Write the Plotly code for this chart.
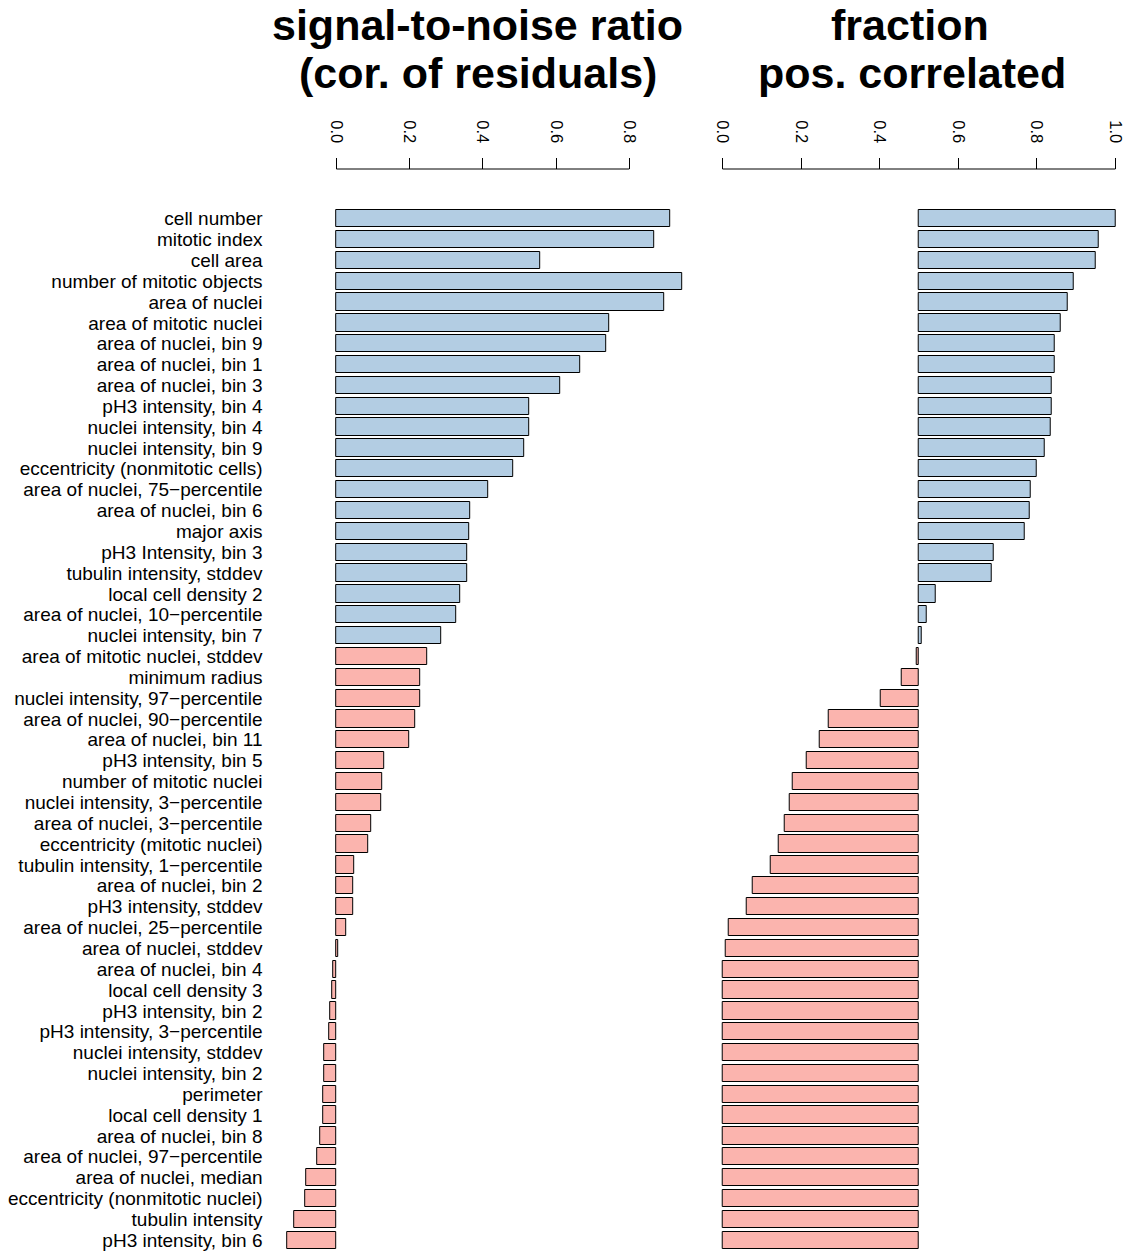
import plotly.graph_objects as go

# Feature names, top to bottom
features = [
    "cell number", "mitotic index", "cell area", "number of mitotic objects",
    "area of nuclei", "area of mitotic nuclei", "area of nuclei, bin 9",
    "area of nuclei, bin 1", "area of nuclei, bin 3", "pH3 intensity, bin 4",
    "nuclei intensity, bin 4", "nuclei intensity, bin 9",
    "eccentricity (nonmitotic cells)", "area of nuclei, 75\u2212percentile",
    "area of nuclei, bin 6", "major axis", "pH3 Intensity, bin 3",
    "tubulin intensity, stddev", "local cell density 2",
    "area of nuclei, 10\u2212percentile", "nuclei intensity, bin 7",
    "area of mitotic nuclei, stddev", "minimum radius",
    "nuclei intensity, 97\u2212percentile", "area of nuclei, 90\u2212percentile",
    "area of nuclei, bin 11", "pH3 intensity, bin 5", "number of mitotic nuclei",
    "nuclei intensity, 3\u2212percentile", "area of nuclei, 3\u2212percentile",
    "eccentricity (mitotic nuclei)", "tubulin intensity, 1\u2212percentile",
    "area of nuclei, bin 2", "pH3 intensity, stddev",
    "area of nuclei, 25\u2212percentile", "area of nuclei, stddev",
    "area of nuclei, bin 4", "local cell density 3", "pH3 intensity, bin 2",
    "pH3 intensity, 3\u2212percentile", "nuclei intensity, stddev",
    "nuclei intensity, bin 2", "perimeter", "local cell density 1",
    "area of nuclei, bin 8", "area of nuclei, 97\u2212percentile",
    "area of nuclei, median", "eccentricity (nonmitotic nuclei)",
    "tubulin intensity", "pH3 intensity, bin 6",
]

# Signal-to-noise ratio (correlation of residuals)
snr = [
    0.911, 0.868, 0.558, 0.945, 0.895, 0.745, 0.738, 0.665, 0.611, 0.527,
    0.526, 0.512, 0.483, 0.415, 0.365, 0.363, 0.357, 0.356, 0.338, 0.327,
    0.285, 0.248, 0.230, 0.228, 0.216, 0.200, 0.131, 0.126, 0.121, 0.094,
    0.088, 0.048, 0.046, 0.045, 0.026, 0.004, -0.009, -0.011, -0.016, -0.020,
    -0.033, -0.034, -0.035, -0.036, -0.045, -0.053, -0.082, -0.085, -0.116,
    -0.135,
]

# Fraction of positively correlated replicate pairs
frac_pos = [
    1.000, 0.957, 0.950, 0.893, 0.880, 0.860, 0.846, 0.845, 0.838, 0.837,
    0.836, 0.821, 0.801, 0.785, 0.782, 0.770, 0.691, 0.684, 0.543, 0.519,
    0.507, 0.495, 0.457, 0.403, 0.269, 0.248, 0.213, 0.178, 0.172, 0.158,
    0.144, 0.122, 0.076, 0.062, 0.015, 0.008, 0.0, 0.0, 0.0, 0.0,
    0.0, 0.0, 0.0, 0.0, 0.0, 0.0, 0.0, 0.0, 0.0, 0.0,
]

n_reproducible = 21  # first group drawn in blue
BLUE = "#b3cde3"
PINK = "#fbb4ae"
colors = [BLUE if i < n_reproducible else PINK for i in range(len(features))]

W, H = 1128, 1251
FONT = "Liberation Sans, Arial, Helvetica, sans-serif"

fig = go.Figure()

fig.add_trace(go.Bar(
    y=features, x=snr, orientation="h", base=0,
    marker=dict(color=colors, line=dict(color="black", width=1)),
    width=0.83, xaxis="x", yaxis="y", showlegend=False,
))

fig.add_trace(go.Bar(
    y=features, x=[f - 0.5 for f in frac_pos], base=0.5, orientation="h",
    marker=dict(color=colors, line=dict(color="black", width=1)),
    width=0.83, xaxis="x2", yaxis="y", showlegend=False,
))

axis_y_px = 169
axis_pos = 1 - axis_y_px / H

common_x = dict(
    side="top", anchor="free", position=axis_pos,
    showgrid=False, zeroline=False, showline=False,
    ticks="outside", ticklen=11, tickwidth=1, tickcolor="black",
    tickangle=90, tickfont=dict(family=FONT, size=16.5, color="black"),
    ticklabelstandoff=9,
)

fig.update_layout(
    width=W, height=H,
    margin=dict(l=0, r=0, t=0, b=0),
    paper_bgcolor="white", plot_bgcolor="white",
    bargap=0,
    font=dict(family=FONT, color="black"),
    xaxis=dict(
        domain=[263.66 / W, 703.7 / W], range=[-0.2, 1.0],
        tickvals=[0, 0.2, 0.4, 0.6, 0.8],
        ticktext=["0.0", "0.2", "0.4", "0.6", "0.8"],
        **common_x,
    ),
    xaxis2=dict(
        domain=[716.0 / W, 1125.2 / W], range=[-0.02, 1.02],
        tickvals=[0, 0.2, 0.4, 0.6, 0.8, 1.0],
        ticktext=["0.0", "0.2", "0.4", "0.6", "0.8", "1.0"],
        **common_x,
    ),
    yaxis=dict(
        domain=[0, 1], range=[49.52, -10.49],
        anchor="free", position=263 / W,
        tickmode="array", tickvals=features, ticktext=features,
        showgrid=False, zeroline=False, showline=False, ticks="",
        tickfont=dict(family=FONT, size=19, color="black"),
        automargin=False,
    ),
)

# Axis lines spanning only the labelled tick range
fig.add_shape(type="line", xref="x", yref="paper", x0=0, x1=0.8,
              y0=axis_pos, y1=axis_pos, line=dict(color="black", width=1))
fig.add_shape(type="line", xref="x2", yref="paper", x0=0, x1=1.0,
              y0=axis_pos, y1=axis_pos, line=dict(color="black", width=1))

# Panel titles
title_font = dict(family=FONT, size=43, color="black")
titles = [
    (478, 25, "<b>signal-to-noise ratio</b>"),
    (479, 73, "<b>(cor. of residuals)</b>"),
    (912, 25, "<b>fraction</b>"),
    (914, 73, "<b>pos. correlated</b>"),
]
for x_px, y_px, txt in titles:
    fig.add_annotation(
        x=x_px / W, y=1 - y_px / H, xref="paper", yref="paper",
        text=txt, showarrow=False, xanchor="center", yanchor="middle",
        font=title_font,
    )

fig.write_html("out.html")
